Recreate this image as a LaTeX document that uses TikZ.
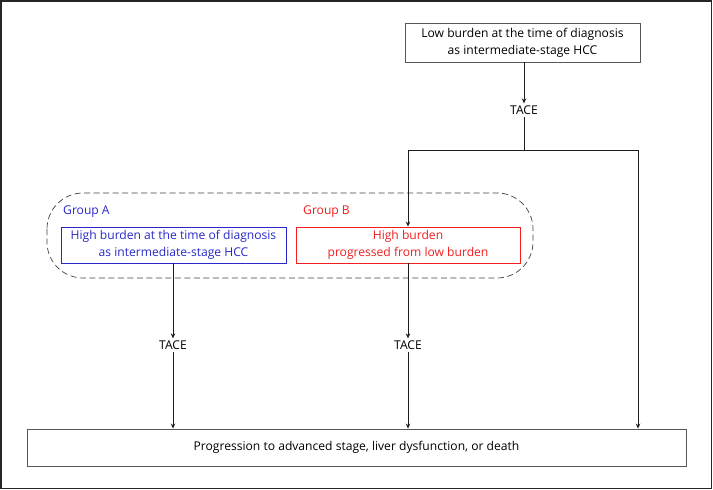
\documentclass[tikz,border=0pt]{standalone}
\usepackage{fontspec}
\setmainfont{Open Sans}
\usetikzlibrary{arrows.meta,calc}
\definecolor{gA}{RGB}{40,40,200}
\definecolor{gB}{RGB}{240,30,30}
\definecolor{ln}{RGB}{30,30,30}
\begin{document}
\begin{tikzpicture}[x=1pt,y=-1pt,
  font=\fontsize{12.1}{17}\selectfont,
  box/.style={draw=ln!75!white, line width=0.9pt, inner sep=0pt, align=center},
  conn/.style={draw=ln, line width=0.7pt},
  arr/.style={conn, -{Stealth[length=5pt,width=4.5pt]}},
  lbl/.style={inner sep=2pt}]
\useasboundingbox (0,0) rectangle (713,490);
\draw[line width=1.5pt, draw=black!85] (1,1) rectangle (711.5,488.5);
% boxes
\node[box, minimum width=235pt, minimum height=39pt] (top) at (522.5,42.5) {Low burden at the time of diagnosis\\as intermediate-stage HCC};
\node[lbl] (t0) at (524,110) {TACE};
\coordinate (split) at (524,150);
\coordinate (sl) at (408,150);
\coordinate (sr) at (638,150);
\draw[dashed, dash pattern=on 6pt off 3.5pt, draw=ln!85!white, line width=0.7pt, rounded corners=36pt] (47,193) rectangle (533,278);
\node[anchor=west, text=gA, inner sep=0pt] (ga) at (63,212) {Group A};
\node[anchor=west, text=gB, inner sep=0pt] (gb) at (303,212) {Group B};
\node[box, draw=gA, text=gA, minimum width=225pt, minimum height=36pt] (a) at (173.5,245) {High burden at the time of diagnosis\\as intermediate-stage HCC};
\node[box, draw=gB, text=gB, minimum width=224pt, minimum height=36pt] (b) at (408,245) {High burden\\progressed from low burden};
\node[lbl] (ta) at (173,345) {TACE};
\node[lbl] (tb) at (408,345) {TACE};
\node[box, minimum width=659pt, minimum height=37pt] (bot) at (356.5,447.5) {Progression to advanced stage, liver dysfunction, or death};
% connectors
\draw[arr] (t0 |- top.south) -- (t0.north);
\draw[conn] (t0.south) -- (split);
\draw[conn] (sl) -- (sr);
\draw[arr] (sl) -- (b.north);
\draw[arr] (sr) -- (sr |- bot.north);
\draw[arr] (ta |- a.south) -- (ta.north);
\draw[arr] (ta.south) -- (ta |- bot.north);
\draw[arr] (b.south) -- (tb.north);
\draw[arr] (tb.south) -- (tb |- bot.north);
\end{tikzpicture}
\end{document}
